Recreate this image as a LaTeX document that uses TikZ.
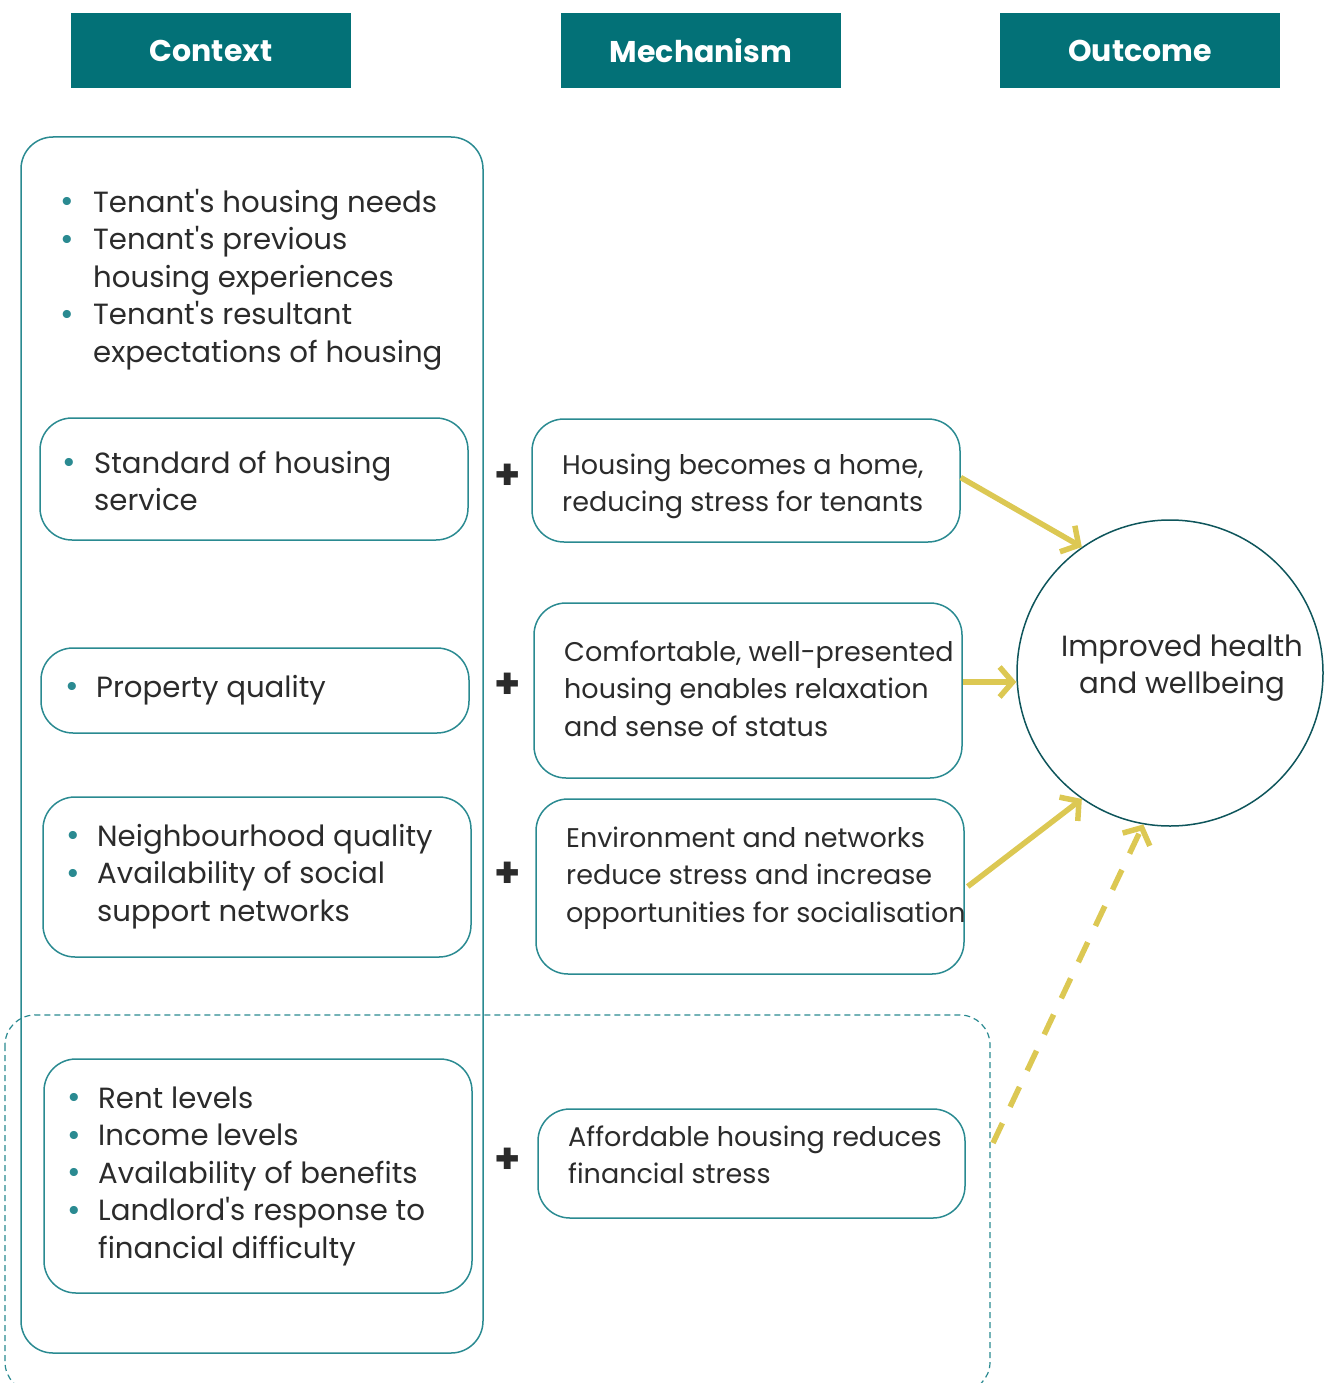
\documentclass[tikz,border=0pt]{standalone}
\usepackage{fontspec}
\setmainfont{Poppins}
\usetikzlibrary{arrows.meta}
\definecolor{hdr}{HTML}{037177}
\definecolor{boxc}{HTML}{2A8A91}
\definecolor{circc}{HTML}{0E555B}
\definecolor{txtc}{HTML}{2B2B2B}
\definecolor{arr}{HTML}{DCC853}
\newcommand\bodyfont{\fontsize{27}{37.5}\selectfont}
\newcommand\ctxfont{\fontsize{29.2}{37.5}\selectfont}
\newcommand\ap{\textquotesingle}
\newcommand\bl[1]{\makebox[#1][l]{\textcolor{boxc}{\raisebox{-0.5pt}{\fontsize{33}{33}\selectfont •}}}}
\tikzset{
  hdrbox/.style={fill=hdr, minimum width=280pt, minimum height=75pt, inner sep=0pt,
    text=white, font=\fontsize{30}{30}\selectfont\bfseries},
  cbox/.style={draw=boxc, line width=1.5pt, rounded corners=32pt, inner sep=0pt},
  tx/.style={anchor=base west, inner sep=0pt, text=txtc, font=\bodyfont},
  ctx/.style={anchor=base west, inner sep=0pt, text=txtc, font=\ctxfont},
  plus/.style={inner sep=0pt, text=txtc, font=\fontsize{42}{42}\selectfont\bfseries},
  arrw/.style={draw=arr, line width=5.5pt, -{Straight Barb[length=13pt,width=30pt]}},
}
\begin{document}
\begin{tikzpicture}[x=1pt,y=-1pt]
\useasboundingbox (0,0) rectangle (1324,1383);
\clip (0,0) rectangle (1324,1383);
% headers
\node[hdrbox] (h1) at (211,50.5) {Context};
\node[hdrbox] (h2) at (701,50.5) {Mechanism};
\node[hdrbox] (h3) at (1140,50.5) {Outcome};
% dashed group
\draw[boxc, line width=1.2pt, dash pattern=on 6pt off 4pt, rounded corners=30pt] (5,1015) rectangle (990,1392);
\coordinate (gout) at (993,1143);
% big context box
\node[cbox, minimum width=462pt, minimum height=1216pt] (big) at (252,745) {};
% context boxes
\node[cbox, minimum width=428pt, minimum height=122pt] (c1) at (254,479) {};
\node[cbox, minimum width=428pt, minimum height=85pt] (c2) at (255,690.5) {};
\node[cbox, minimum width=428pt, minimum height=160pt] (c3) at (257,877) {};
\node[cbox, minimum width=428pt, minimum height=234pt] (c4) at (258,1176) {};
% mechanism boxes
\node[cbox, minimum width=428pt, minimum height=123pt] (m1) at (746,480.5) {};
\node[cbox, minimum width=428pt, minimum height=175pt] (m2) at (748,690.5) {};
\node[cbox, minimum width=428pt, minimum height=175pt] (m3) at (750,886.5) {};
\node[cbox, minimum width=427pt, minimum height=109pt] (m4) at (751.5,1163.5) {};
% outcome circle
\node[circle, draw=circc, line width=1.5pt, minimum size=306pt, inner sep=0pt] (circ) at (1170,673) {};
\node[inner sep=0pt, text=txtc, font=\ctxfont, align=center] (ctext) at (1182,668) {Improved health\\and wellbeing};
% texts
\node[ctx] (t0) at (60,212) {\begin{tabular}[t]{@{}l@{}l@{}}\bl{33pt} & Tenant\ap s housing needs\\ \bl{33pt} & Tenant\ap s previous\\ & housing experiences\\ \bl{33pt} & Tenant\ap s resultant\\ & expectations of housing\end{tabular}};
\node[ctx] (t1) at (62,473) {\begin{tabular}[t]{@{}l@{}l@{}}\bl{32pt} & Standard of housing\\ & service\end{tabular}};
\node[ctx] (t2) at (65,697) {\begin{tabular}[t]{@{}l@{}l@{}}\bl{31pt} & Property quality\end{tabular}};
\node[ctx] (t3) at (66,846) {\begin{tabular}[t]{@{}l@{}l@{}}\bl{31pt} & Neighbourhood quality\\ \bl{31pt} & Availability of social\\ & support networks\end{tabular}};
\node[ctx] (t4) at (67,1108) {\begin{tabular}[t]{@{}l@{}l@{}}\bl{31pt} & Rent levels\\ \bl{31pt} & Income levels\\ \bl{31pt} & Availability of benefits\\ \bl{31pt} & Landlord\ap s response to\\ & financial difficulty\end{tabular}};
\node[tx] (u1) at (562,474) {\begin{tabular}[t]{@{}l@{}}Housing becomes a home,\\ reducing stress for tenants\end{tabular}};
\node[tx] (u2) at (564,661) {\begin{tabular}[t]{@{}l@{}}Comfortable, well-presented\\ housing enables relaxation\\ and sense of status\end{tabular}};
\node[tx] (u3) at (566,847) {\begin{tabular}[t]{@{}l@{}}Environment and networks\\ reduce stress and increase\\ opportunities for socialisation\end{tabular}};
\node[tx] (u4) at (568,1146) {\begin{tabular}[t]{@{}l@{}}Affordable housing reduces\\ financial stress\end{tabular}};
% plus signs
\node[plus] (p1) at (508,477) {+};
\node[plus] (p2) at (508,686) {+};
\node[plus] (p3) at (508,875) {+};
\node[plus] (p4) at (508,1161) {+};
% arrows
\draw[arrw] ([yshift=3pt]m1.east) -- (circ.125);
\draw[arrw] ([yshift=8.5pt]m2.east) -- ([yshift=-9pt]circ.west);
\draw[arrw] ([xshift=3pt]m3.east) -- (circ.235);
\draw[arrw, dash pattern=on 22pt off 18pt] (gout) -- (circ.260);
\end{tikzpicture}
\end{document}
